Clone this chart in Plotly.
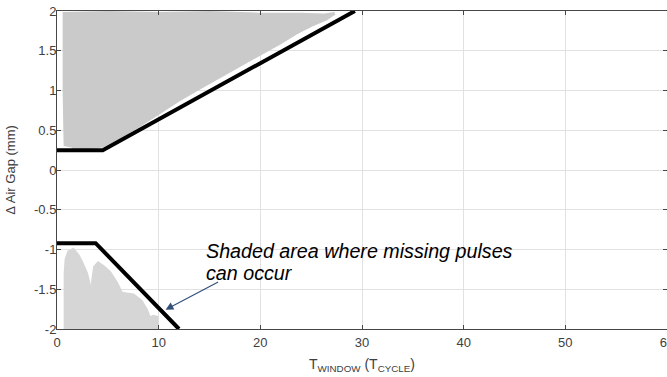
import plotly.graph_objects as go

# Boundary lines (T_window, delta air gap)
upper_line_x = [0, 4.5, 29.3]
upper_line_y = [0.25, 0.25, 2.0]
lower_line_x = [0, 3.8, 12.0]
lower_line_y = [-0.92, -0.92, -2.0]

# Outline of the shaded (scatter-cloud) regions
upper_cloud_x = [0.8, 0.7, 0.7, 5, 10, 15, 20, 24, 26.3, 27.3, 26.5, 25, 23.5, 22, 20, 18, 16, 14, 12, 10, 8, 6, 4.5, 3, 1.5]
upper_cloud_y = [0.3, 1.0, 1.97, 1.98, 1.97, 1.98, 1.96, 1.96, 1.95, 1.97, 1.9, 1.82, 1.72, 1.6, 1.46, 1.32, 1.18, 1.03, 0.88, 0.71, 0.55, 0.4, 0.3, 0.28, 0.28]
lower_cloud1_x = [0.8, 0.8, 0.9, 1.15, 1.6, 2.1, 2.5, 2.9, 3.2, 3.4, 3.4]
lower_cloud1_y = [-2.0, -1.3, -1.12, -1.03, -1.0, -1.08, -1.18, -1.3, -1.45, -1.6, -2.0]
lower_cloud2_x = [3.5, 3.5, 3.7, 4.05, 4.6, 5.2, 5.86, 6.35, 7.5, 8.3, 8.8, 9.1, 9.5, 9.8, 9.9]
lower_cloud2_y = [-2.0, -1.4, -1.22, -1.17, -1.22, -1.29, -1.42, -1.55, -1.57, -1.65, -1.76, -1.86, -1.84, -1.85, -2.0]

x_ticks = [0, 10, 20, 30, 40, 50, 60]
y_ticks = [-2, -1.5, -1, -0.5, 0, 0.5, 1, 1.5, 2]
y_tick_text = ["-2", "-1.5", "-1", "-0.5", "0", "0.5", "1", "1.5", "2"]

note_lines = ["Shaded area where missing pulses", "can occur"]

FONT = "Liberation Sans, Arial, sans-serif"
GREY_TXT = "rgb(64,64,64)"

fig = go.Figure()
for cx, cy, col in [(upper_cloud_x, upper_cloud_y, "rgb(202,202,202)"),
                    (lower_cloud1_x, lower_cloud1_y, "rgb(214,214,214)"),
                    (lower_cloud2_x, lower_cloud2_y, "rgb(214,214,214)")]:
    fig.add_trace(go.Scatter(x=cx, y=cy, mode="lines", fill="toself",
                             fillcolor=col, line=dict(color=col, width=3),
                             showlegend=False, hoverinfo="skip"))

for lx, ly in [(upper_line_x, upper_line_y), (lower_line_x, lower_line_y)]:
    fig.add_trace(go.Scatter(x=lx, y=ly, mode="lines",
                             line=dict(color="black", width=4),
                             showlegend=False, cliponaxis=False))

# annotation text, two lines placed separately for tight line spacing
for txt, yv in zip(note_lines, [-1.025, -1.30]):
    fig.add_annotation(x=14.5, y=yv, xref="x", yref="y", xanchor="left",
                       yanchor="middle", align="left", showarrow=False,
                       text="<i>" + txt + "</i>",
                       font=dict(family=FONT, size=19.7, color="black"))
fig.add_annotation(x=10.68, y=-1.757, ax=16.0, ay=-1.40, xref="x", yref="y",
                   axref="x", ayref="y", text="", showarrow=True,
                   arrowhead=2, arrowsize=1.3, arrowwidth=1.2,
                   arrowcolor="rgb(50,80,120)")

axis_common = dict(showgrid=True, gridcolor="rgb(225,225,225)", gridwidth=1,
                   showline=True, linecolor="rgb(70,70,70)", linewidth=1,
                   mirror="ticks", ticks="inside", ticklen=4,
                   tickcolor="rgb(70,70,70)", zeroline=False,
                   automargin=False, ticklabeloverflow="allow",
                   tickfont=dict(family=FONT, size=13, color=GREY_TXT))

fig.update_xaxes(range=[0, 60], tickvals=x_ticks, ticklabelstandoff=1,
                 title=dict(text="T<sub>WINDOW</sub> (T<sub>CYCLE</sub>)",
                            font=dict(family=FONT, size=14, color=GREY_TXT),
                            standoff=10),
                 **axis_common)
fig.update_yaxes(range=[-2, 2], tickvals=y_ticks, ticktext=y_tick_text,
                 ticklabelstandoff=-3,
                 title=dict(text="Δ Air Gap (mm)",
                            font=dict(family=FONT, size=13, color=GREY_TXT),
                            standoff=15),
                 **axis_common)

fig.update_layout(width=667, height=377,
                  margin=dict(l=57, r=0, t=11, b=48),
                  paper_bgcolor="white", plot_bgcolor="white",
                  showlegend=False)

# remove the default page margin so the figure sits at the window's corner
fig.write_html("out.html", config={"displayModeBar": False},
               post_script="document.body.style.margin='0px';document.body.style.overflow='hidden';")
